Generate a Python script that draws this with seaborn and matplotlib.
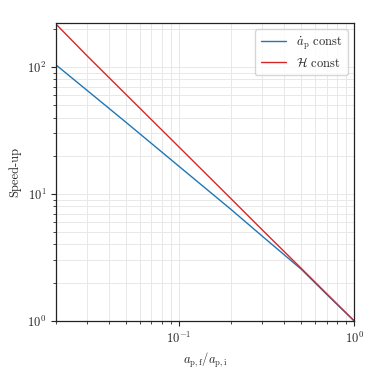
import numpy as np
import pandas as pd
import matplotlib
matplotlib.use('Agg')
import matplotlib.pyplot as plt
import seaborn as sns

# values
ratio = [0.02, 0.03, 0.05, 0.1, 0.2, 0.3, 0.5, 0.7, 1.0]
speedup_adot = [104, 65.7, 36.8, 16.6, 7.5, 4.64, 2.55, 1.61, 1.0]
speedup_H = [218, 123, 61, 23.6, 9.1, 5.2, 2.59, 1.63, 1.0]

df = pd.DataFrame({
    'ratio': ratio * 2,
    'speedup': speedup_adot + speedup_H,
    'case': [r'$\dot{a}_{\rm p}$ const'] * len(ratio) + [r'$\mathcal{H}$ const'] * len(ratio),
})

sns.set_style('ticks')
plt.rcParams['font.family'] = 'serif'
plt.rcParams['font.serif'] = ['cmr10', 'DejaVu Serif']
plt.rcParams['mathtext.fontset'] = 'cm'
plt.rcParams['axes.formatter.use_mathtext'] = True
plt.rcParams['font.size'] = 9

fig = plt.figure(figsize=(3.78, 3.78), dpi=100)
ax = fig.add_axes([0.148, 0.151, 0.789, 0.788])

sns.lineplot(data=df, x='ratio', y='speedup', hue='case',
             palette=['#1f77b4', '#d62728'], linewidth=1.0, ax=ax)

ax.set_xscale('log')
ax.set_yscale('log')
ax.set_xlim(0.02, 1)
ax.set_ylim(1, 222)
ax.grid(True, which='both', color='#e8e8e8', linewidth=0.7)
ax.set_axisbelow(True)
ax.set_xlabel(r'$a_{\rm p,f}/a_{\rm p,i}$')
ax.set_ylabel('Speed-up')
for s in ax.spines.values():
    s.set_color('#222222')
    s.set_linewidth(0.9)

leg = ax.legend(loc='upper right', fancybox=True, framealpha=0.8,
                edgecolor='#cccccc', fontsize=9, labelspacing=0.3,
                borderpad=0.45, handlelength=2.0)

fig.savefig('out.png', dpi=100)
